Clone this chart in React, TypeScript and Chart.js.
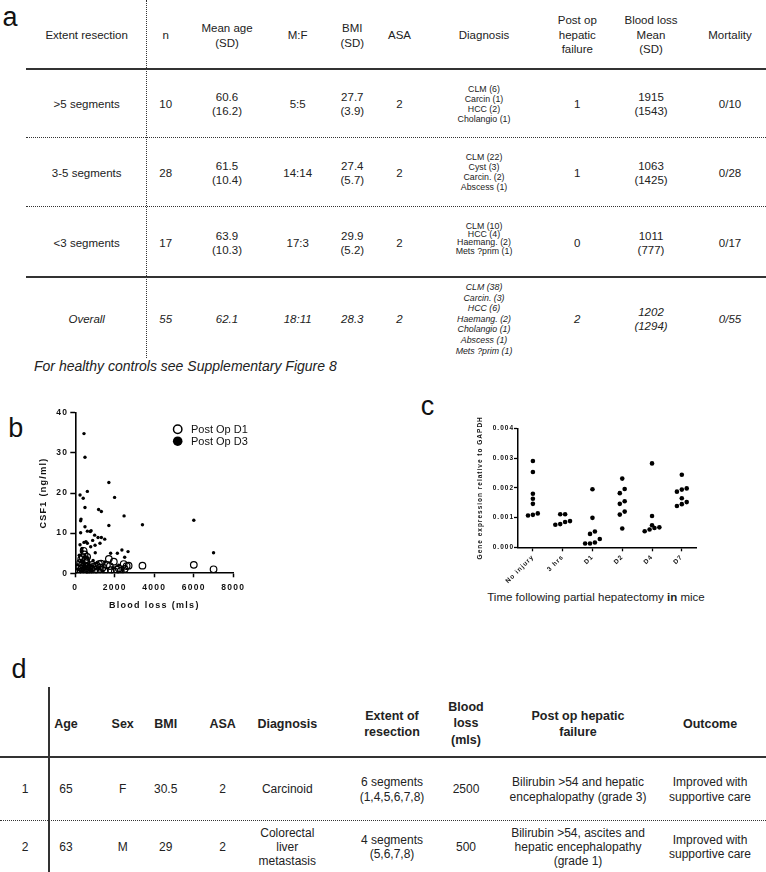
import React, { useEffect, useRef } from "react";
import { Chart, registerables } from "chart.js";

Chart.register(...registerables);

const FONT = "'Liberation Sans', Arial, Helvetica, sans-serif";

// ---------- Table a ----------
const aHeaders = ["Extent resection", "n", "Mean age\n(SD)", "M:F", "BMI\n(SD)", "ASA", "Diagnosis", "Post op\nhepatic\nfailure", "Blood loss\nMean\n(SD)", "Mortality"];
const aExtent = [">5 segments", "3-5 segments", "<3 segments", "Overall"];
const aN = ["10", "28", "17", "55"];
const aMeanAge = ["60.6\n(16.2)", "61.5\n(10.4)", "63.9\n(10.3)", "62.1"];
const aMF = ["5:5", "14:14", "17:3", "18:11"];
const aBMI = ["27.7\n(3.9)", "27.4\n(5.7)", "29.9\n(5.2)", "28.3"];
const aASA = ["2", "2", "2", "2"];
const aDiagnosis = [
  "CLM (6)\nCarcin (1)\nHCC (2)\nCholangio (1)",
  "CLM (22)\nCyst (3)\nCarcin. (2)\nAbscess (1)",
  "CLM (10)\nHCC (4)\nHaemang. (2)\nMets ?prim (1)",
  "CLM (38)\nCarcin. (3)\nHCC (6)\nHaemang. (2)\nCholangio (1)\nAbscess (1)\nMets ?prim (1)",
];
const aHepaticFailure = ["1", "1", "0", "2"];
const aBloodLoss = ["1915\n(1543)", "1063\n(1425)", "1011\n(777)", "1202\n(1294)"];
const aMortality = ["0/10", "0/28", "0/17", "0/55"];
const aFootnote = "For healthy controls see Supplementary Figure 8";

// ---------- Table d ----------
const dHeaders = ["", "Age", "Sex", "BMI", "ASA", "Diagnosis", "Extent of\nresection", "Blood\nloss\n(mls)", "Post op hepatic\nfailure", "Outcome"];
const dRow1 = ["1", "65", "F", "30.5", "2", "Carcinoid", "6 segments\n(1,4,5,6,7,8)", "2500", "Bilirubin >54 and hepatic\nencephalopathy (grade 3)", "Improved with\nsupportive care"];
const dRow2 = ["2", "63", "M", "29", "2", "Colorectal\nliver\nmetastasis", "4 segments\n(5,6,7,8)", "500", "Bilirubin >54, ascites and\nhepatic encephalopathy\n(grade 1)", "Improved with\nsupportive care"];

// ---------- Chart b ----------
const seriesBLabels = ["Post Op D1", "Post Op D3"];
const d1BloodLoss = [420, 470, 380, 300, 520, 560, 250, 350, 450, 600, 200, 320, 500, 650, 150, 280, 400, 700, 800, 900, 1000, 1100, 1200, 1300, 1250, 1400, 1500, 1600, 1700, 1750, 1800, 1950, 2000, 2100, 2200, 2300, 2450, 2500, 2600, 2700, 3400, 6000, 7000, 100, 550, 750, 850, 950, 1150, 600, 480];
const d1Csf1 = [5.6, 4.7, 4.0, 3.5, 3.3, 2.8, 2.6, 2.2, 2.0, 1.8, 1.5, 1.2, 1.0, 0.8, 0.5, 0.4, 0.3, 0.6, 1.3, 1.6, 0.9, 1.9, 2.3, 2.4, 1.4, 1.5, 0.7, 2.0, 3.6, 1.8, 0.8, 2.9, 0.4, 0.9, 1.2, 0.6, 2.3, 1.1, 1.8, 1.9, 1.9, 2.1, 1.0, 0.2, 0.2, 0.3, 2.1, 0.5, 0.6, 4.1, 3.1];
const d3BloodLoss = [440, 490, 610, 240, 400, 490, 1700, 1990, 1180, 1320, 2470, 3400, 6000, 7000, 270, 290, 1700, 490, 270, 610, 760, 800, 980, 1150, 1320, 1490, 1250, 240, 440, 540, 610, 340, 780, 1010, 1790, 2130, 2360, 2500, 2670, 1000, 880, 200, 300, 350, 420, 500, 550, 650, 700, 750, 850, 900, 1100, 1200, 1400, 1500, 1900, 2200, 2400, 150, 380, 450, 600, 100];
const d3Csf1 = [34.8, 28.9, 20.4, 19.5, 18.7, 16.4, 22.6, 18.9, 15.9, 15.4, 14.3, 12.1, 13.2, 5.1, 13.1, 13.5, 11.9, 11.6, 10.1, 10.5, 10.4, 10.6, 9.5, 8.9, 8.9, 8.5, 7.5, 7.1, 7.7, 7.9, 7.5, 6.2, 6.6, 5.1, 5.0, 5.0, 5.8, 4.0, 5.4, 7.0, 8.2, 4.5, 3.0, 5.5, 2.5, 4.2, 1.5, 3.8, 2.2, 0.9, 1.8, 3.2, 2.6, 1.2, 0.5, 2.8, 1.4, 2.0, 0.8, 1.0, 0.6, 1.7, 0.3, 2.1];

// ---------- Chart c ----------
const cCategories = ["No injury", "3 hrs", "D1", "D2", "D4", "D7"];
const cNoInjury = [0.0029, 0.00253, 0.0018, 0.00163, 0.00146, 0.00114, 0.00107, 0.00109];
const c3Hrs = [0.00111, 0.00111, 0.00088, 0.00085, 0.00078, 0.00076];
const cD1 = [0.00195, 0.00099, 0.00053, 0.00045, 0.00028, 0.00016, 0.00013, 0.00013];
const cD2 = [0.00231, 0.00196, 0.00182, 0.00155, 0.00146, 0.0012, 0.0011, 0.00063];
const cD4 = [0.00282, 0.00105, 0.00074, 0.00067, 0.00065, 0.0006, 0.00054];
const cD7 = [0.00244, 0.00198, 0.00194, 0.00187, 0.00165, 0.00152, 0.00145, 0.00139];
const cGroups = [cNoInjury, c3Hrs, cD1, cD2, cD4, cD7];
const cXTitle = ["Time following partial hepatectomy ", "in", " mice"];

// ---------- layout helpers ----------
const C_PLOT_H = 119;
const C_PLOT_W = 179;
const C_YMAX = 0.004;

function beeswarm(values: number[], index: number) {
  const pxPerUnit = C_PLOT_H / C_YMAX;
  const catPx = C_PLOT_W / cCategories.length;
  const BIN_PX = 4.5;
  const SPREAD_PX = 4.9;
  const sorted = [...values].sort((a, b) => a - b);
  const bins: { start: number; vals: number[] }[] = [];
  for (const v of sorted) {
    const py = v * pxPerUnit;
    const last = bins[bins.length - 1];
    if (last && py - last.start < BIN_PX) last.vals.push(v);
    else bins.push({ start: py, vals: [v] });
  }
  return bins.flatMap((b) =>
    b.vals.map((v, j) => ({ x: index + ((j - (b.vals.length - 1) / 2) * SPREAD_PX) / catPx, y: v }))
  );
}

const spacingPlugin = (px: string) => ({
  id: "letterSpacing",
  beforeUpdate(chart: any) {
    chart.ctx.letterSpacing = px;
  },
  beforeDraw(chart: any) {
    chart.ctx.letterSpacing = px;
  },
});

const insideLegend = {
  id: "insideLegend",
  afterDatasetsDraw(chart: any) {
    const { ctx, chartArea } = chart;
    ctx.save();
    ctx.letterSpacing = "0px";
    ctx.font = `11px ${FONT}`;
    ctx.textBaseline = "middle";
    ctx.textAlign = "left";
    chart.data.datasets.forEach((ds: any, i: number) => {
      const cx = chartArea.left + 102.4;
      const cy = chartArea.top + 16.5 + i * 12;
      ctx.beginPath();
      if (ds.pointBackgroundColor === "#000") {
        ctx.arc(cx, cy, 4.8, 0, Math.PI * 2);
        ctx.fillStyle = "#000";
        ctx.fill();
      } else {
        ctx.arc(cx, cy, 4.2, 0, Math.PI * 2);
        ctx.lineWidth = 1.5;
        ctx.strokeStyle = "#000";
        ctx.stroke();
      }
      ctx.fillStyle = "#111";
      ctx.fillText(ds.label, cx + 13.3, cy + 0.5);
    });
    ctx.restore();
  },
};

type TxtProps = { x: number; y: number; text: string; size?: number; lh?: number; bold?: boolean; italic?: boolean };
function Txt({ x, y, text, size = 11.5, lh = 14, bold, italic }: TxtProps) {
  return (
    <div
      style={{
        position: "absolute",
        left: x,
        top: y,
        transform: "translate(-50%,-50%)",
        fontSize: size,
        lineHeight: `${lh}px`,
        textAlign: "center",
        whiteSpace: "pre",
        fontWeight: bold ? "bold" : "normal",
        fontStyle: italic ? "italic" : "normal",
        color: "#222",
      }}
    >
      {text}
    </div>
  );
}

function PanelLetter({ x, baseline, letter }: { x: number; baseline: number; letter: string }) {
  return (
    <div
      style={{
        position: "absolute",
        left: x,
        top: baseline - 22.85,
        transform: "translateX(-50%)",
        fontSize: 27,
        lineHeight: "27px",
        color: "#111",
      }}
    >
      {letter}
    </div>
  );
}

function Line({ x, y, w, h, style }: { x: number; y: number; w: number; h: number; style?: any }) {
  return <div style={{ position: "absolute", left: x, top: y, width: w, height: h, ...style }} />;
}

export default function App() {
  const bRef = useRef<HTMLCanvasElement>(null);
  const cRef = useRef<HTMLCanvasElement>(null);

  useEffect(() => {
    const charts: Chart[] = [];
    const tickFontB = { family: FONT, size: 8.5, weight: "bold" as const };
    const titleFontB = { family: FONT, size: 9, weight: "bold" as const };

    if (bRef.current) {
      charts.push(
        new Chart(bRef.current, {
          type: "scatter",
          data: {
            datasets: [
              {
                label: seriesBLabels[0],
                data: d1BloodLoss.map((x, i) => ({ x, y: d1Csf1[i] })),
                pointRadius: 3.3,
                pointBorderWidth: 1.2,
                pointBorderColor: "#000",
                pointBackgroundColor: "rgba(0,0,0,0)",
              } as any,
              {
                label: seriesBLabels[1],
                data: d3BloodLoss.map((x, i) => ({ x, y: d3Csf1[i] })),
                pointRadius: 1.7,
                pointBorderWidth: 0,
                pointBorderColor: "#000",
                pointBackgroundColor: "#000",
              } as any,
            ],
          },
          options: {
            responsive: false,
            animation: false,
            devicePixelRatio: 1,
            layout: { padding: { top: 17.7, right: 26.7, bottom: 0, left: 0 } },
            plugins: { legend: { display: false }, tooltip: { enabled: false } },
            scales: {
              x: {
                type: "linear",
                min: 0,
                max: 8000,
                afterFit: (s: any) => {
                  s.height = 46.7;
                },
                ticks: { stepSize: 2000, padding: 5, color: "#111", font: tickFontB, maxRotation: 0, callback: (v: any) => String(v) },
                grid: { display: true, drawOnChartArea: false, drawTicks: true, tickLength: 4, tickColor: "#000", tickWidth: 1.5 },
                border: { display: true, color: "#000", width: 1.6 },
                title: { display: true, text: "Blood loss (mls)", color: "#111", font: titleFontB, padding: { top: 0, bottom: 8.6 } },
              },
              y: {
                type: "linear",
                min: 0,
                max: 40,
                afterFit: (s: any) => {
                  s.width = 75.3;
                },
                ticks: { stepSize: 10, padding: 2, color: "#111", font: tickFontB, callback: (v: any) => String(v) },
                grid: { display: true, drawOnChartArea: false, drawTicks: true, tickLength: 5, tickColor: "#000", tickWidth: 1.5 },
                border: { display: true, color: "#000", width: 1.6 },
                title: { display: true, text: "CSF1 (ng/ml)", color: "#111", font: titleFontB, padding: { top: 37.9, bottom: 0 } },
              },
            },
          },
          plugins: [spacingPlugin("1.3px"), insideLegend],
        } as any)
      );
    }

    if (cRef.current) {
      const tickFontC = { family: FONT, size: 6.5, weight: "bold" as const };
      charts.push(
        new Chart(cRef.current, {
          type: "scatter",
          data: {
            datasets: [
              {
                label: "Gene expression",
                data: cGroups.flatMap((vals, i) => beeswarm(vals, i)),
                pointRadius: 2.3,
                pointBorderWidth: 0,
                pointBackgroundColor: "#000",
                pointBorderColor: "#000",
              } as any,
            ],
          },
          options: {
            responsive: false,
            animation: false,
            devicePixelRatio: 1,
            layout: { padding: { top: 13.3, right: 13.3, bottom: 0, left: 0 } },
            plugins: { legend: { display: false }, tooltip: { enabled: false } },
            scales: {
              x: {
                type: "linear",
                bounds: "data",
                min: -0.5,
                max: cCategories.length - 0.5,
                afterBuildTicks: (s: any) => {
                  s.ticks = cCategories.map((_, i) => ({ value: i }));
                },
                afterFit: (s: any) => {
                  s.height = 42.7;
                },
                ticks: {
                  callback: (v: any) => cCategories[v],
                  minRotation: 45,
                  maxRotation: 45,
                  autoSkip: false,
                  padding: 2,
                  color: "#111",
                  font: tickFontC,
                },
                grid: { display: true, drawOnChartArea: false, drawTicks: true, tickLength: 4, tickColor: "#000", tickWidth: 1.3 },
                border: { display: true, color: "#000", width: 1.5 },
              },
              y: {
                type: "linear",
                min: 0,
                max: C_YMAX,
                afterFit: (s: any) => {
                  s.width = 48;
                },
                ticks: { stepSize: 0.001, padding: 0, color: "#111", font: tickFontC, callback: (v: any) => Number(v).toFixed(3) },
                grid: { display: true, drawOnChartArea: false, drawTicks: true, tickLength: 4, tickColor: "#000", tickWidth: 1.3 },
                border: { display: true, color: "#000", width: 1.5 },
                title: {
                  display: true,
                  text: "Gene expression relative to GAPDH",
                  color: "#111",
                  font: tickFontC,
                  padding: { top: 6.1, bottom: 0 },
                },
              },
            },
          },
          plugins: [spacingPlugin("1px")],
        } as any)
      );
    }

    return () => charts.forEach((c) => c.destroy());
  }, []);

  const aColX = [86.7, 165.7, 227, 297.7, 352.3, 399.5, 484, 577.3, 651, 730];
  const aRowY = [104.3, 173.3, 242.7, 319.3];
  const aDiagY = [104.3, 171.7, 238, 319.3];
  const aDiagLh = [10, 10, 8.2, 10.55];
  const aCols = [aExtent, aN, aMeanAge, aMF, aBMI, aASA, null, aHepaticFailure, aBloodLoss, aMortality];

  const dColX = [25, 66, 122.7, 165.7, 222.7, 287.3, 392, 466, 578, 710];
  const dRowY = [789.3, 846.7];

  const dotted = "1.5px dotted #333";

  return (
    <div
      style={{
        position: "absolute",
        left: 0,
        top: 0,
        width: 766,
        height: 872,
        overflow: "hidden",
        background: "#fff",
        fontFamily: FONT,
        color: "#222",
      }}
    >
      {/* Panel a */}
      <PanelLetter x={10} baseline={26.7} letter="a" />
      {aHeaders.map((h, i) => (
        <Txt key={"ah" + i} x={aColX[i]} y={35} text={h} lh={14.5} />
      ))}
      {aCols.map((col, ci) =>
        col
          ? col.map((v, ri) => <Txt key={`a${ci}-${ri}`} x={aColX[ci]} y={aRowY[ri]} text={v} italic={ri === 3} />)
          : aDiagnosis.map((v, ri) => (
              <Txt key={`ad-${ri}`} x={aColX[6]} y={aDiagY[ri]} text={v} size={8.8} lh={aDiagLh[ri]} italic={ri === 3} />
            ))
      )}
      <Line x={26} y={68} w={740} h={2} style={{ background: "#333" }} />
      <Line x={26} y={137.3} w={740} h={0} style={{ borderTop: dotted }} />
      <Line x={26} y={206.3} w={740} h={0} style={{ borderTop: dotted }} />
      <Line x={26} y={276} w={740} h={2} style={{ background: "#333" }} />
      <Line x={146} y={0} w={0} h={358} style={{ borderLeft: dotted }} />
      <div
        style={{
          position: "absolute",
          left: 34,
          top: 357,
          fontSize: 14,
          lineHeight: "18px",
          fontStyle: "italic",
          whiteSpace: "nowrap",
          color: "#222",
        }}
      >
        {aFootnote}
      </div>

      {/* Panel b */}
      <PanelLetter x={15.7} baseline={438} letter="b" />
      <canvas ref={bRef} width={260} height={225} style={{ position: "absolute", left: 0, top: 395, width: 260, height: 225 }} />

      {/* Panel c */}
      <PanelLetter x={427.5} baseline={415.7} letter="c" />
      <canvas ref={cRef} width={240} height={175} style={{ position: "absolute", left: 470, top: 415, width: 240, height: 175 }} />
      <div
        style={{
          position: "absolute",
          left: 596,
          top: 597,
          transform: "translate(-50%,-50%)",
          fontSize: 11.5,
          lineHeight: "14px",
          whiteSpace: "nowrap",
          color: "#222",
        }}
      >
        {cXTitle[0]}
        <b>{cXTitle[1]}</b>
        {cXTitle[2]}
      </div>

      {/* Panel d */}
      <PanelLetter x={19} baseline={679} letter="d" />
      {dHeaders.map((h, i) => (
        <Txt key={"dh" + i} x={dColX[i]} y={723.7} text={h} size={12.5} lh={16.5} bold />
      ))}
      {[dRow1, dRow2].map((row, ri) =>
        row.map((v, ci) => <Txt key={`d${ri}-${ci}`} x={dColX[ci]} y={dRowY[ri]} text={v} size={12} lh={14.2} />)
      )}
      <Line x={47.7} y={687} w={2} h={185} style={{ background: "#333" }} />
      <Line x={0} y={755.7} w={766} h={2} style={{ background: "#333" }} />
      <Line x={0} y={820} w={766} h={0} style={{ borderTop: dotted }} />
    </div>
  );
}
